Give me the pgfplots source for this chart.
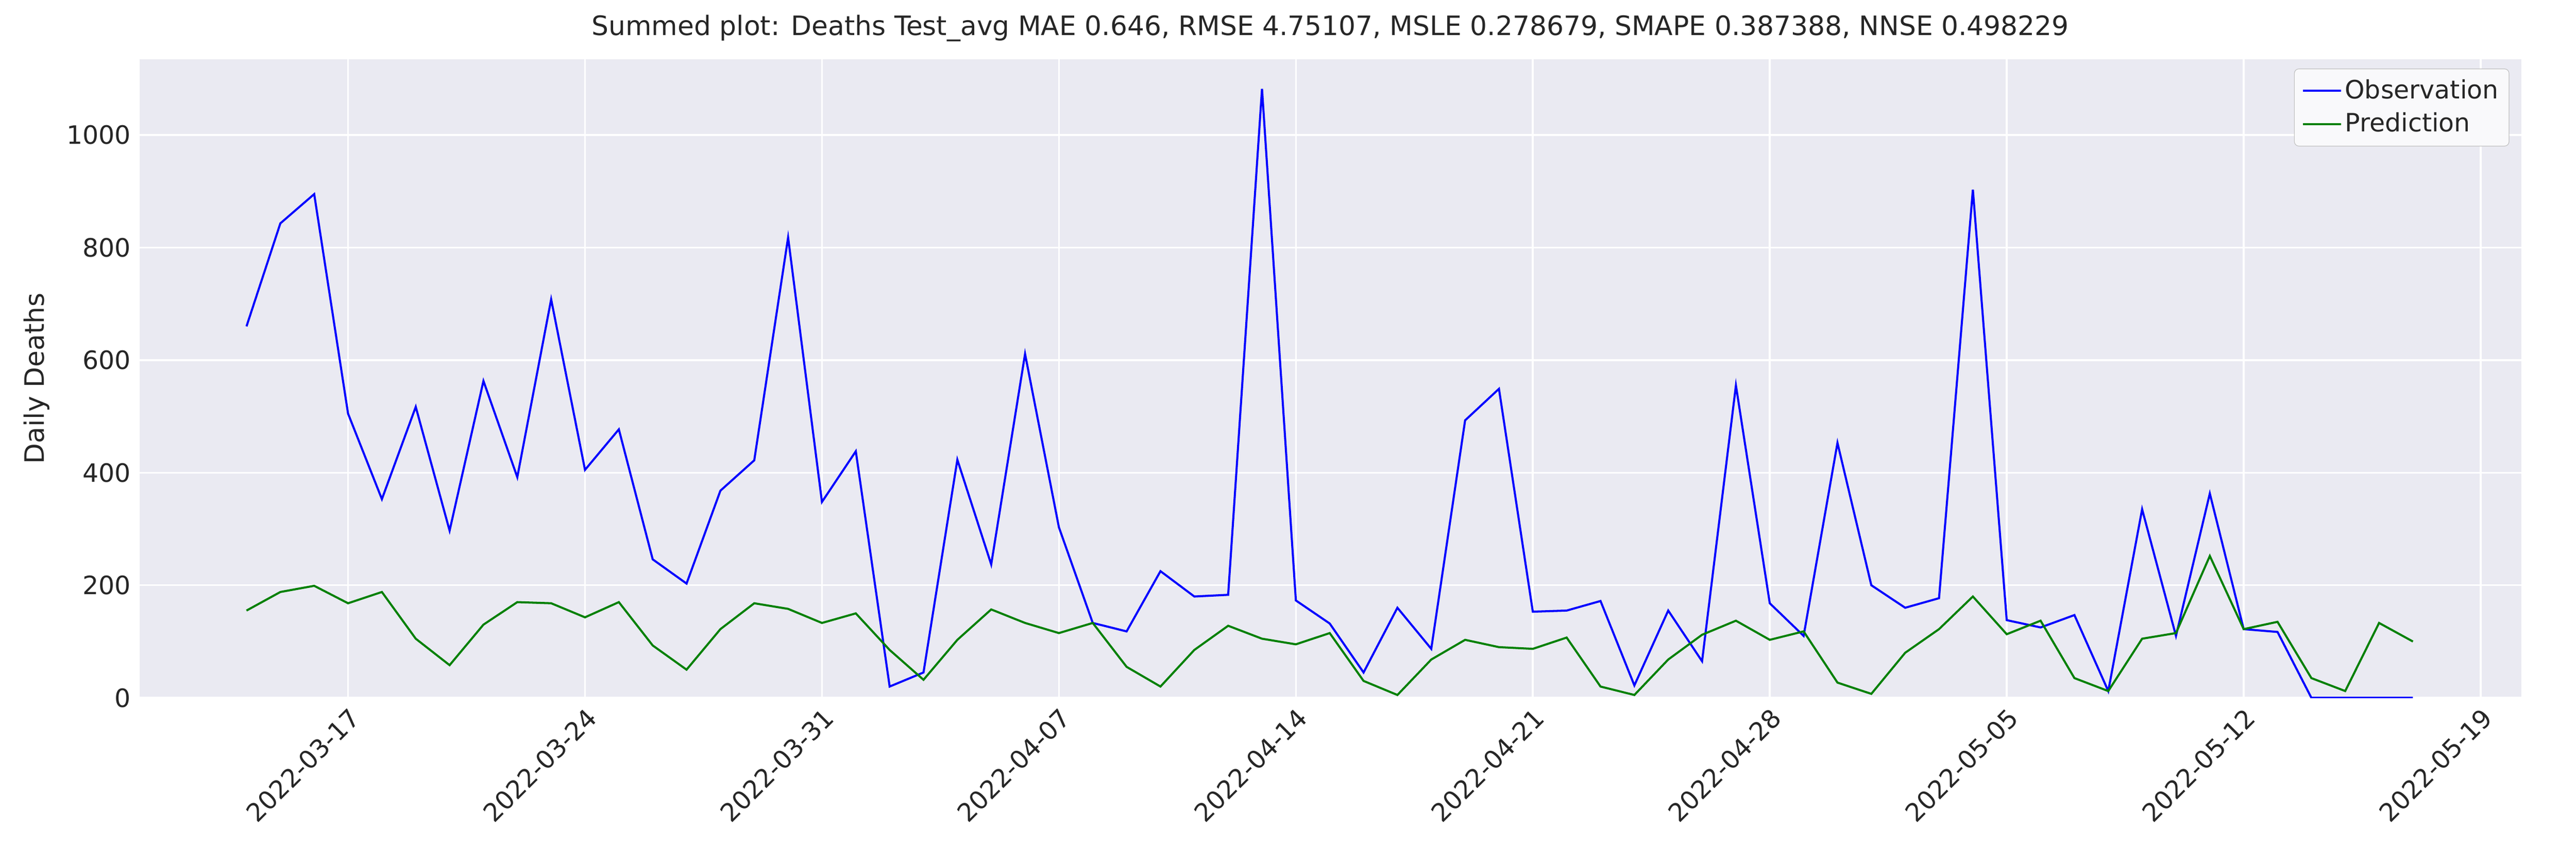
\documentclass[border=0pt]{standalone}
\usepackage{pgfplots}
\pgfplotsset{compat=1.18}
\usepackage{fontspec}
\setmainfont{DejaVu Sans}
\definecolor{bg}{HTML}{EAEAF2}
\definecolor{tc}{HTML}{262626}
\begin{document}
\fontsize{17}{20}\selectfont
\begin{tikzpicture}
\useasboundingbox (-1.30in,-1.50in) rectangle (22.70in,6.50in);
\begin{axis}[scale only axis, width=22.19in, height=5.95in,
 xmin=-3.16, xmax=67.2, ymin=0, ymax=1135,
 axis background/.style={fill=bg}, axis line style={draw=none},
 grid=major, grid style={white, line width=1.2pt},
 major tick length=0pt,
 xtick={3,10,17,24,31,38,45,52,59,66},
 xticklabels={2022-03-17,2022-03-24,2022-03-31,2022-04-07,2022-04-14,2022-04-21,2022-04-28,2022-05-05,2022-05-12,2022-05-19},
 x tick label style={rotate=45, anchor=north east, font=\fontsize{17}{20}\selectfont, text=tc, inner sep=4pt},
 ytick={0,200,400,600,800,1000},
 yticklabel style={/pgf/number format/1000 sep={}},
 y tick label style={font=\fontsize{17}{20}\selectfont, text=tc},
 /pgf/number format/assume math mode=true,
 ylabel={Daily Deaths}, ylabel style={font=\fontsize{18}{20}\selectfont, text=tc},
 title={Summed plot: Deaths Test\_avg MAE 0.646, RMSE 4.75107, MSLE 0.278679, SMAPE 0.387388, NNSE 0.498229},
 title style={font=\fontsize{18}{20}\selectfont, text=tc},
 legend style={at={(0.995,0.985)}, anchor=north east, font=\fontsize{17}{20}\selectfont, text=tc, fill=bg!30!white, draw=lightgray, rounded corners=3pt, inner sep=5pt, row sep=3pt},
 legend image code/.code={\draw[#1] (0cm,0cm) -- (0.9cm,0cm);},
 legend cell align=left]
\addplot[blue, line width=1.4pt] table[row sep=\\] {x y\\
0 660\\1 843\\2 895\\3 505\\4 353\\5 517\\6 297\\7 563\\8 392\\9 708\\10 405\\11 477\\12 246\\13 203\\14 368\\15 422\\16 818\\17 348\\18 438\\19 20\\20 45\\21 423\\22 237\\23 611\\24 303\\25 133\\26 118\\27 225\\28 180\\29 183\\30 1082\\31 173\\32 132\\33 45\\34 160\\35 87\\36 493\\37 549\\38 153\\39 155\\40 172\\41 22\\42 155\\43 65\\44 555\\45 168\\46 110\\47 453\\48 200\\49 160\\50 177\\51 903\\52 138\\53 125\\54 147\\55 12\\56 335\\57 110\\58 363\\59 122\\60 117\\61 0\\62 0\\63 0\\64 0\\};
\addlegendentry{Observation}
\addplot[green!50!black, line width=1.4pt] table[row sep=\\] {x y\\
0 155\\1 188\\2 199\\3 168\\4 188\\5 105\\6 58\\7 130\\8 170\\9 168\\10 143\\11 170\\12 93\\13 50\\14 122\\15 168\\16 158\\17 133\\18 150\\19 85\\20 32\\21 103\\22 157\\23 133\\24 115\\25 133\\26 55\\27 20\\28 85\\29 128\\30 105\\31 95\\32 115\\33 30\\34 5\\35 68\\36 103\\37 90\\38 87\\39 107\\40 20\\41 5\\42 68\\43 112\\44 137\\45 103\\46 118\\47 27\\48 7\\49 80\\50 122\\51 180\\52 113\\53 137\\54 35\\55 12\\56 105\\57 115\\58 252\\59 122\\60 135\\61 35\\62 12\\63 133\\64 100\\};
\addlegendentry{Prediction}
\end{axis}
\end{tikzpicture}
\end{document}
